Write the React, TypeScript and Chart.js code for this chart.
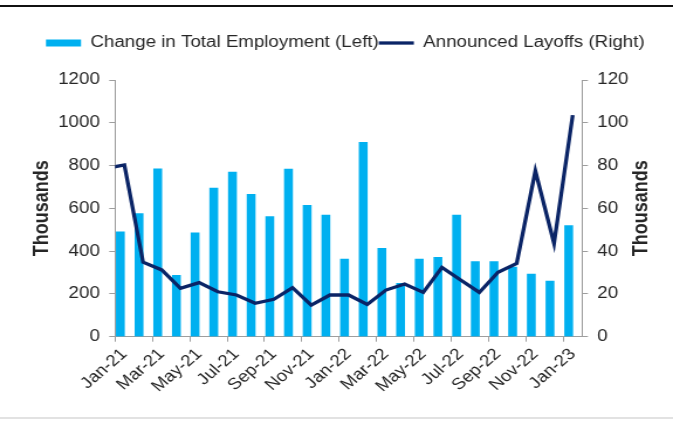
import React, { useEffect, useRef } from 'react';
import { Chart, registerables } from 'chart.js';

Chart.register(...registerables);

// ---- data (thousands) ----
const MONTHS = [
  'Jan-21', 'Feb-21', 'Mar-21', 'Apr-21', 'May-21', 'Jun-21', 'Jul-21', 'Aug-21', 'Sep-21', 'Oct-21', 'Nov-21', 'Dec-21',
  'Jan-22', 'Feb-22', 'Mar-22', 'Apr-22', 'May-22', 'Jun-22', 'Jul-22', 'Aug-22', 'Sep-22', 'Oct-22', 'Nov-22', 'Dec-22',
  'Jan-23',
];
const EMPLOYMENT_CHANGE = [
  490, 575, 785, 287, 485, 695, 770, 665, 561, 784, 614, 569,
  363, 909, 413, 250, 363, 371, 569, 351, 351, 326, 293, 260,
  519,
];
// Announced layoffs start one month earlier (Dec-20), through Jan-23
const LAYOFF_START_OFFSET = -1;
const LAYOFFS = [
  78.6,
  80.3, 34.8, 31.2, 22.6, 25.3, 21.0, 19.5, 15.6, 17.5, 22.9, 14.8, 19.5,
  19.5, 15.1, 21.8, 24.6, 20.7, 32.4, 26.5, 20.7, 30.1, 34.3, 77.5, 43.6,
  103.6,
];
const SERIES_LABELS = ['Change in Total Employment (Left)', 'Announced Layoffs (Right)'];
const AXIS_TITLE = 'Thousands';

// ---- style ----
const FONT = '"Liberation Sans", Arial, Helvetica, sans-serif';
const TEXT = '#262626';
const AXIS = '#9e9e9e';
const BAR_COLOR = '#00b0f0';
const LINE_COLOR = '#0a2466';
const CANVAS_W = 575; // drawn narrower, displayed stretched to 673 like the reference
const CANVAS_H = 422;

const legendSpacing = {
  id: 'legendSpacing',
  afterInit(chart: any) {
    const legend = chart.legend;
    if (!legend) return;
    const orig = legend.fit;
    legend.fit = function () {
      orig.call(this);
      this.height = 45;
    };
  },
};

const rightTitle = {
  id: 'rightTitle',
  afterDraw(chart: any) {
    const { ctx, chartArea, scales } = chart;
    const s = scales.y1;
    ctx.save();
    ctx.translate(s.right - 22, (chartArea.top + chartArea.bottom) / 2);
    ctx.rotate(-Math.PI / 2);
    ctx.font = `bold 18px ${FONT}`;
    ctx.fillStyle = TEXT;
    ctx.textAlign = 'center';
    ctx.textBaseline = 'middle';
    ctx.fillText(AXIS_TITLE, 0, 0);
    ctx.restore();
  },
};

export default function App() {
  const ref = useRef<HTMLCanvasElement | null>(null);

  useEffect(() => {
    if (!ref.current) return;
    const tickFont = { family: FONT, size: 16 };
    const chart = new Chart(ref.current, {
      type: 'bar',
      data: {
        labels: MONTHS,
        datasets: [
          {
            type: 'bar',
            label: SERIES_LABELS[0],
            data: EMPLOYMENT_CHANGE,
            backgroundColor: BAR_COLOR,
            borderWidth: 0,
            barThickness: 6.9,
            xAxisID: 'x',
            yAxisID: 'y',
            order: 1,
          },
          {
            type: 'line',
            label: SERIES_LABELS[1],
            data: LAYOFFS.map((v, i) => ({ x: i + LAYOFF_START_OFFSET, y: v })),
            borderColor: LINE_COLOR,
            backgroundColor: LINE_COLOR,
            borderWidth: 3.3,
            borderJoinStyle: 'miter',
            pointRadius: 0,
            tension: 0,
            fill: false,
            xAxisID: 'x2',
            yAxisID: 'y1',
            order: 0,
          },
        ],
      } as any,
      options: {
        responsive: false,
        maintainAspectRatio: false,
        animation: false,
        devicePixelRatio: 1,
        layout: { padding: { left: 20, right: 5, top: 35, bottom: 0 } },
        plugins: {
          legend: {
            display: true,
            position: 'top',
            align: 'center',
            labels: {
              usePointStyle: true,
              pointStyleWidth: 30,
              boxHeight: 7,
              padding: 0,
              color: TEXT,
              font: { family: FONT, size: 16 },
              generateLabels: (c: any) =>
                c.data.datasets.map((ds: any, i: number) => ({
                  text: ds.label,
                  datasetIndex: i,
                  fillStyle: i === 0 ? BAR_COLOR : LINE_COLOR,
                  strokeStyle: i === 0 ? BAR_COLOR : LINE_COLOR,
                  lineWidth: i === 0 ? 0 : 3.3,
                  pointStyle: i === 0 ? 'rect' : 'line',
                  hidden: false,
                  fontColor: TEXT,
                })),
            },
          },
          tooltip: { enabled: false },
        },
        scales: {
          x: {
            type: 'category',
            offset: true,
            grid: {
              offset: true,
              drawOnChartArea: false,
              drawTicks: true,
              tickLength: 5,
              lineWidth: 1,
              color: (ctx: any) => (typeof ctx.index === 'number' && ctx.index % 2 === 0 ? AXIS : 'rgba(0,0,0,0)'),
            },
            border: { display: true, color: AXIS, width: 1 },
            ticks: {
              autoSkip: false,
              minRotation: 45,
              maxRotation: 45,
              padding: 3,
              color: TEXT,
              font: tickFont,
              callback: (_v: any, i: number) => (i % 2 === 0 ? MONTHS[i] : ''),
            },
            afterFit: (s: any) => {
              s.height = 85.3;
            },
          },
          x2: {
            type: 'linear',
            display: false,
            min: -0.5,
            max: MONTHS.length - 0.5,
            offset: false,
          },
          y: {
            position: 'left',
            min: 0,
            max: 1200,
            ticks: { stepSize: 200, padding: 8, color: TEXT, font: tickFont, callback: (v: any) => String(v) },
            grid: { drawOnChartArea: false, drawTicks: true, tickLength: 5, color: AXIS },
            border: { display: true, color: AXIS, width: 1 },
            title: {
              display: true,
              text: AXIS_TITLE,
              color: TEXT,
              font: { family: FONT, size: 18, weight: 'bold' },
              padding: { top: 5, bottom: 0 },
            },
            afterFit: (s: any) => {
              s.width = 78.3;
            },
          },
          y1: {
            position: 'right',
            min: 0,
            max: 120,
            ticks: { stepSize: 20, padding: 8, color: TEXT, font: tickFont, callback: (v: any) => String(v) },
            grid: { drawOnChartArea: false, drawTicks: true, tickLength: 5, color: AXIS },
            border: { display: true, color: AXIS, width: 1 },
            afterFit: (s: any) => {
              s.width = 72.7;
            },
          },
        },
      } as any,
      plugins: [legendSpacing, rightTitle],
    });
    return () => chart.destroy();
  }, []);

  return (
    <div style={{ position: 'fixed', left: 0, top: 0, width: 673, height: 422, background: '#fff', overflow: 'hidden' }}>
      <canvas
        ref={ref}
        width={CANVAS_W}
        height={CANVAS_H}
        style={{ position: 'absolute', left: 0, top: 0, width: '673px', height: '422px' }}
      />
      <div style={{ position: 'absolute', left: 0, top: 5, width: 673, height: 2, background: '#111' }} />
      <div style={{ position: 'absolute', left: 0, top: 417, width: 673, height: 2, background: '#e2e2e2' }} />
    </div>
  );
}
